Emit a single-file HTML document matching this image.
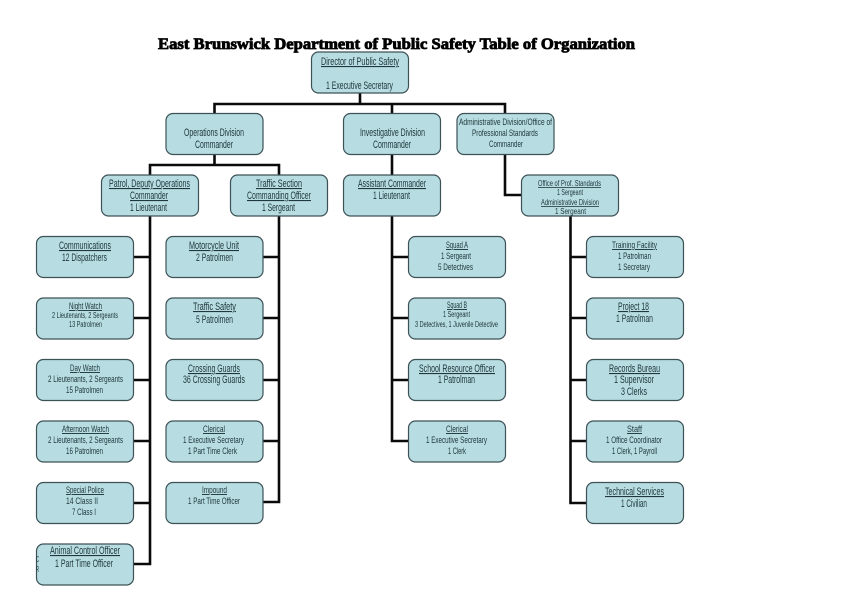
<!DOCTYPE html>
<html><head><meta charset="utf-8">
<style>
html,body{margin:0;padding:0;background:#fff;width:842px;height:595px;overflow:hidden}
svg{display:block}
.c{fill:none;stroke:#0a0a0a;stroke-width:2.6;stroke-linecap:square;stroke-linejoin:miter}
.b{fill:#b7dde2;stroke:#3c5257;stroke-width:1.2}
text{font-family:"Liberation Sans",sans-serif;fill:#20383d;font-size:11px;stroke:none}
.s{font-size:9.5px}.x{font-size:8px}
.u{text-decoration:underline}
.t{font-family:"Liberation Serif",serif;font-weight:bold;font-size:15.5px;fill:#000;stroke:#000;stroke-width:.8px}
</style></head><body>
<svg width="842" height="595" viewBox="0 0 842 595" xmlns="http://www.w3.org/2000/svg">
<path class="c" d="M360 93V104M214.5 104H505M214.5 104V113M392 104V113M505 104V113"/>
<path class="c" d="M214.5 154V165M150 165H279M150 165V175M279 165V175"/>
<path class="c" d="M392 154V175M505 154V195H522"/>
<path class="c" d="M150 216V564H134M134 257H150M134 318H150M134 380H150M134 441H150M134 503H150"/>
<path class="c" d="M279 216V502H264M264 257H279M264 318H279M264 380H279M264 441H279"/>
<path class="c" d="M392 216V441H408M392 257H408M392 318H408M392 380H408"/>
<path class="c" d="M570.5 216V503H586M570.5 257H586M570.5 318H586M570.5 380H586M570.5 441H586"/>
<g class="b">
<rect class="b" x="311.5" y="52" width="97" height="41" rx="7"/>
<rect class="b" x="166" y="113.500" width="97" height="41" rx="7"/>
<rect class="b" x="343.500" y="113.500" width="97" height="41" rx="7"/>
<rect class="b" x="457" y="113.500" width="97" height="41" rx="7"/>
<rect class="b" x="101.500" y="175" width="97" height="41" rx="7"/>
<rect class="b" x="230.500" y="175" width="97" height="41" rx="7"/>
<rect class="b" x="343.500" y="175" width="97" height="41" rx="7"/>
<rect class="b" x="521.500" y="175" width="97" height="41" rx="7"/>
<rect class="b" x="36.500" y="236.500" width="97" height="41" rx="7"/>
<rect class="b" x="36.500" y="298" width="97" height="41" rx="7"/>
<rect class="b" x="36.500" y="359.500" width="97" height="41" rx="7"/>
<rect class="b" x="36.500" y="421" width="97" height="41" rx="7"/>
<rect class="b" x="36.500" y="482.500" width="97" height="41" rx="7"/>
<rect class="b" x="36.500" y="544" width="97" height="41" rx="7"/>
<rect class="b" x="166" y="236.500" width="97" height="41" rx="7"/>
<rect class="b" x="166" y="298" width="97" height="41" rx="7"/>
<rect class="b" x="166" y="359.500" width="97" height="41" rx="7"/>
<rect class="b" x="166" y="421" width="97" height="41" rx="7"/>
<rect class="b" x="166" y="482.500" width="97" height="41" rx="7"/>
<rect class="b" x="408.500" y="236.500" width="97" height="41" rx="7"/>
<rect class="b" x="408.500" y="298" width="97" height="41" rx="7"/>
<rect class="b" x="408.500" y="359.500" width="97" height="41" rx="7"/>
<rect class="b" x="408.500" y="421" width="97" height="41" rx="7"/>
<rect class="b" x="586.500" y="236.500" width="97" height="41" rx="7"/>
<rect class="b" x="586.500" y="298" width="97" height="41" rx="7"/>
<rect class="b" x="586.500" y="359.500" width="97" height="41" rx="7"/>
<rect class="b" x="586.500" y="421" width="97" height="41" rx="7"/>
<rect class="b" x="586.500" y="482.500" width="97" height="41" rx="7"/>
</g>
<text class="t" x="158" y="49" textLength="477" lengthAdjust="spacingAndGlyphs">East Brunswick Department of Public Safety Table of Organization</text>

<text class="u" x="321" y="65" textLength="78" lengthAdjust="spacingAndGlyphs">Director of Public Safety</text>
<text x="326" y="89" textLength="67" lengthAdjust="spacingAndGlyphs">1 Executive Secretary</text>

<text x="184" y="136" textLength="60" lengthAdjust="spacingAndGlyphs">Operations Division</text>
<text x="195" y="148" textLength="38" lengthAdjust="spacingAndGlyphs">Commander</text>
<text x="360" y="136" textLength="65" lengthAdjust="spacingAndGlyphs">Investigative Division</text>
<text x="373" y="148" textLength="38" lengthAdjust="spacingAndGlyphs">Commander</text>
<text class="s" x="459" y="125" textLength="93" lengthAdjust="spacingAndGlyphs">Administrative Division/Office of</text>
<text class="s" x="472" y="136" textLength="66" lengthAdjust="spacingAndGlyphs">Professional Standards</text>
<text class="s" x="489" y="147" textLength="34" lengthAdjust="spacingAndGlyphs">Commander</text>

<text class="u" x="109" y="187" textLength="81" lengthAdjust="spacingAndGlyphs">Patrol, Deputy Operations</text>
<text class="u" x="130" y="199" textLength="38" lengthAdjust="spacingAndGlyphs">Commander</text>
<text x="130" y="211" textLength="37" lengthAdjust="spacingAndGlyphs">1 Lieutenant</text>
<text class="u" x="256" y="187" textLength="46" lengthAdjust="spacingAndGlyphs">Traffic Section</text>
<text class="u" x="247" y="199" textLength="64" lengthAdjust="spacingAndGlyphs">Commanding Officer</text>
<text x="262" y="211" textLength="33" lengthAdjust="spacingAndGlyphs">1 Sergeant</text>
<text class="u" x="358" y="187" textLength="68" lengthAdjust="spacingAndGlyphs">Assistant Commander</text>
<text x="373" y="199" textLength="37" lengthAdjust="spacingAndGlyphs">1 Lieutenant</text>
<text class="x u" x="538" y="186" textLength="63" lengthAdjust="spacingAndGlyphs">Office of Prof. Standards</text>
<text class="x" x="557" y="195" textLength="26" lengthAdjust="spacingAndGlyphs">1 Sergeant</text>
<text class="x u" x="541" y="205" textLength="58" lengthAdjust="spacingAndGlyphs">Administrative Division</text>
<text class="x" x="555" y="214" textLength="31" lengthAdjust="spacingAndGlyphs">1 Sergeant</text>

<text class="u" x="59" y="249" textLength="52" lengthAdjust="spacingAndGlyphs">Communications</text>
<text x="62" y="261" textLength="45" lengthAdjust="spacingAndGlyphs">12 Dispatchers</text>
<text class="s u" x="69" y="309" textLength="33" lengthAdjust="spacingAndGlyphs">Night Watch</text>
<text class="x" x="52" y="318" textLength="66" lengthAdjust="spacingAndGlyphs">2 Lieutenants, 2 Sergeants</text>
<text class="x" x="69" y="327" textLength="33" lengthAdjust="spacingAndGlyphs">13 Patrolmen</text>
<text class="s u" x="70" y="371" textLength="30" lengthAdjust="spacingAndGlyphs">Day Watch</text>
<text class="s" x="48" y="382" textLength="75" lengthAdjust="spacingAndGlyphs">2 Lieutenants, 2 Sergeants</text>
<text class="s" x="66" y="393" textLength="37" lengthAdjust="spacingAndGlyphs">15 Patrolmen</text>
<text class="s u" x="62" y="432" textLength="47" lengthAdjust="spacingAndGlyphs">Afternoon Watch</text>
<text class="s" x="48" y="443" textLength="75" lengthAdjust="spacingAndGlyphs">2 Lieutenants, 2 Sergeants</text>
<text class="s" x="66" y="454" textLength="37" lengthAdjust="spacingAndGlyphs">16 Patrolmen</text>
<text class="s u" x="66" y="493" textLength="38" lengthAdjust="spacingAndGlyphs">Special Police</text>
<text class="s" x="66" y="504" textLength="32" lengthAdjust="spacingAndGlyphs">14 Class II</text>
<text class="s" x="72" y="515" textLength="24" lengthAdjust="spacingAndGlyphs">7 Class I</text>
<text class="u" x="50" y="554" textLength="70" lengthAdjust="spacingAndGlyphs">Animal Control Officer</text>
<text x="55" y="567" textLength="58" lengthAdjust="spacingAndGlyphs">1 Part Time Officer</text>
<text class="x" x="36" y="562" textLength="3" lengthAdjust="spacingAndGlyphs">C</text>
<text class="x" x="36" y="572" textLength="3" lengthAdjust="spacingAndGlyphs">R</text>

<text class="u" x="189" y="249" textLength="50" lengthAdjust="spacingAndGlyphs">Motorcycle Unit</text>
<text x="196" y="261" textLength="37" lengthAdjust="spacingAndGlyphs">2 Patrolmen</text>
<text class="u" x="193" y="310" textLength="43" lengthAdjust="spacingAndGlyphs">Traffic Safety</text>
<text x="196" y="323" textLength="37" lengthAdjust="spacingAndGlyphs">5 Patrolmen</text>
<text class="u" x="188" y="372" textLength="52" lengthAdjust="spacingAndGlyphs">Crossing Guards</text>
<text x="183" y="383" textLength="62" lengthAdjust="spacingAndGlyphs">36 Crossing Guards</text>
<text class="s u" x="203" y="432" textLength="22" lengthAdjust="spacingAndGlyphs">Clerical</text>
<text class="s" x="183" y="443" textLength="61" lengthAdjust="spacingAndGlyphs">1 Executive Secretary</text>
<text class="s" x="188" y="454" textLength="49" lengthAdjust="spacingAndGlyphs">1 Part Time Clerk</text>
<text class="s u" x="202" y="493" textLength="25" lengthAdjust="spacingAndGlyphs">Impound</text>
<text class="s" x="188" y="504" textLength="52" lengthAdjust="spacingAndGlyphs">1 Part Time Officer</text>

<text class="s u" x="446" y="248" textLength="22" lengthAdjust="spacingAndGlyphs">Squad A</text>
<text class="s" x="441" y="259" textLength="30" lengthAdjust="spacingAndGlyphs">1 Sergeant</text>
<text class="s" x="438" y="270" textLength="35" lengthAdjust="spacingAndGlyphs">5 Detectives</text>
<text class="s u" x="447" y="308" textLength="20" lengthAdjust="spacingAndGlyphs">Squad B</text>
<text class="x" x="443" y="317" textLength="27" lengthAdjust="spacingAndGlyphs">1 Sergeant</text>
<text class="x" x="415" y="327" textLength="83" lengthAdjust="spacingAndGlyphs">3 Detectives, 1 Juvenile Detective</text>
<text class="u" x="419" y="372" textLength="76" lengthAdjust="spacingAndGlyphs">School Resource Officer</text>
<text x="438" y="383" textLength="37" lengthAdjust="spacingAndGlyphs">1 Patrolman</text>
<text class="s u" x="446" y="432" textLength="22" lengthAdjust="spacingAndGlyphs">Clerical</text>
<text class="s" x="426" y="443" textLength="61" lengthAdjust="spacingAndGlyphs">1 Executive Secretary</text>
<text class="s" x="448" y="454" textLength="18" lengthAdjust="spacingAndGlyphs">1 Clerk</text>

<text class="s u" x="612" y="248" textLength="45" lengthAdjust="spacingAndGlyphs">Training Facility</text>
<text class="s" x="618" y="259" textLength="33" lengthAdjust="spacingAndGlyphs">1 Patrolman</text>
<text class="s" x="618" y="270" textLength="32" lengthAdjust="spacingAndGlyphs">1 Secretary</text>
<text class="u" x="618" y="310" textLength="31" lengthAdjust="spacingAndGlyphs">Project 18</text>
<text x="616" y="322" textLength="37" lengthAdjust="spacingAndGlyphs">1 Patrolman</text>
<text class="u" x="609" y="372" textLength="51" lengthAdjust="spacingAndGlyphs">Records Bureau</text>
<text x="614" y="383" textLength="40" lengthAdjust="spacingAndGlyphs">1 Supervisor</text>
<text x="621" y="395" textLength="26" lengthAdjust="spacingAndGlyphs">3 Clerks</text>
<text class="s u" x="627" y="432" textLength="15" lengthAdjust="spacingAndGlyphs">Staff</text>
<text class="s" x="606" y="443" textLength="56" lengthAdjust="spacingAndGlyphs">1 Office Coordinator</text>
<text class="s" x="612" y="454" textLength="45" lengthAdjust="spacingAndGlyphs">1 Clerk, 1 Payroll</text>
<text class="u" x="605" y="495" textLength="59" lengthAdjust="spacingAndGlyphs">Technical Services</text>
<text x="621" y="507" textLength="26" lengthAdjust="spacingAndGlyphs">1 Civilian</text>
</svg>
</body></html>
